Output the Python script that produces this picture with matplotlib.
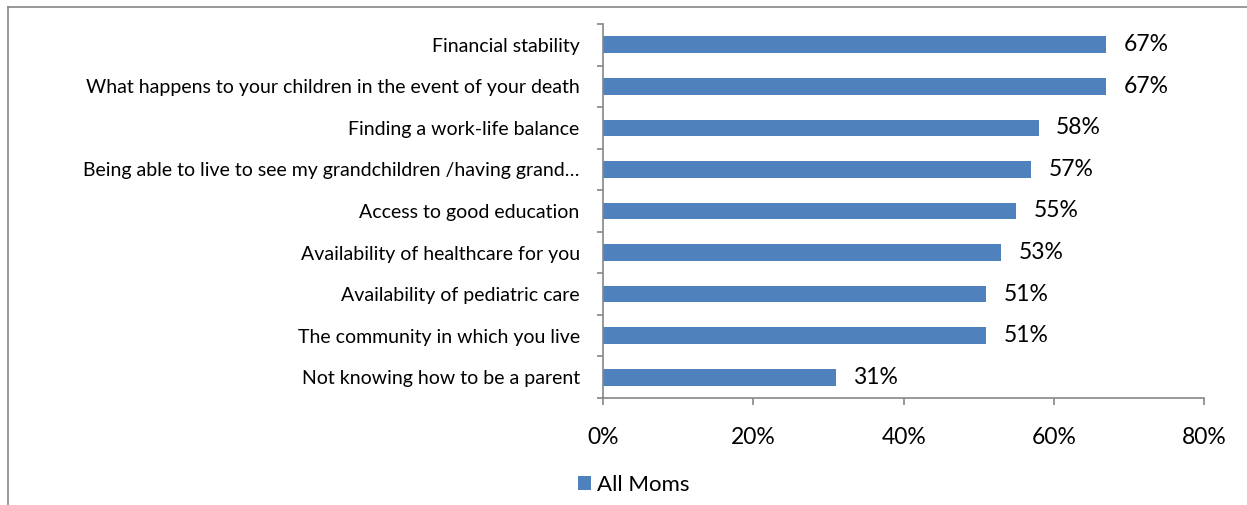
import matplotlib
matplotlib.use("Agg")
import matplotlib.pyplot as plt
from matplotlib.lines import Line2D
from matplotlib.patches import Patch
import numpy as np

plt.rcParams["font.family"] = ["Lato", "DejaVu Sans"]

categories = [
    "Financial stability",
    "What happens to your children in the event of your death",
    "Finding a work-life balance",
    "Being able to live to see my grandchildren /having grand\u2026",
    "Access to good education",
    "Availability of healthcare for you",
    "Availability of pediatric care",
    "The community in which you live",
    "Not knowing how to be a parent",
]
all_moms = [67, 67, 58, 57, 55, 53, 51, 51, 31]
x_ticks = [0, 20, 40, 60, 80]

BAR_COLOR = "#4F81BD"
AXIS_GRAY = "#868686"

fig = plt.figure(figsize=(12.47, 5.05), dpi=100)
ax = fig.add_axes([0.4838, 0.2119, 0.4817, 0.7406])

y = np.arange(len(categories))
ax.barh(y, all_moms, height=0.4, color=BAR_COLOR, zorder=2)

for yi, v in zip(y, all_moms):
    ax.text(v + 2.3, yi, f"{v}%", va="center", ha="left", fontsize=16.5, color="black")

ax.set_xlim(0, 80)
ax.set_ylim(len(categories) - 0.5, -0.5)
ax.set_xticks(x_ticks)
ax.set_xticklabels([f"{t}%" for t in x_ticks], fontsize=16.5)
ax.set_yticks(y)
ax.set_yticklabels(categories, fontsize=14)
ax.set_yticks(np.arange(-0.5, len(categories), 1), minor=True)

ax.tick_params(axis="y", which="major", length=0, pad=17)
ax.tick_params(axis="y", which="minor", length=4.5, width=1.2, color=AXIS_GRAY, direction="out")
ax.tick_params(axis="x", length=5, width=1.2, color=AXIS_GRAY, direction="out", pad=16)

for side in ["top", "right"]:
    ax.spines[side].set_visible(False)
for side in ["left", "bottom"]:
    ax.spines[side].set_color(AXIS_GRAY)
    ax.spines[side].set_linewidth(1.2)

# outer chart frame (only top and left edges fall inside the image)
W, H = 1247, 505
fig.add_artist(Line2D([8 / W, 1.0], [1 - 7 / H, 1 - 7 / H], color=AXIS_GRAY, lw=1.2))
fig.add_artist(Line2D([8 / W, 8 / W], [0.0, 1 - 7 / H], color=AXIS_GRAY, lw=1.2))

handle = Patch(facecolor=BAR_COLOR, edgecolor="none")
fig.legend([handle], ["All Moms"], loc="center", bbox_to_anchor=(0.508, 0.04),
           frameon=False, fontsize=16, handlelength=0.6, handleheight=0.6,
           handletextpad=0.25, borderpad=0)

fig.savefig("out.png", dpi=100)
